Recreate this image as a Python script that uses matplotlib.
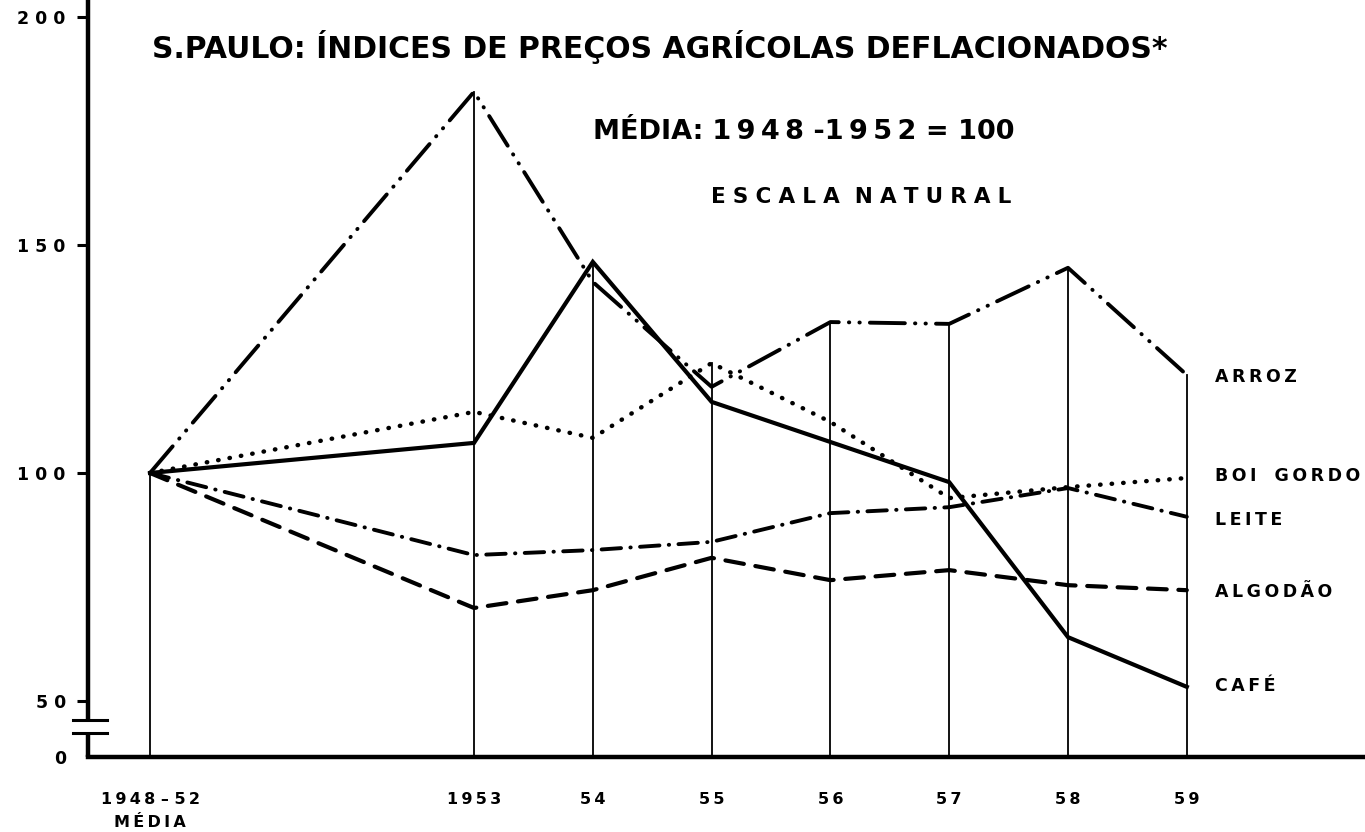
import matplotlib
matplotlib.use("Agg")
import matplotlib.pyplot as plt

# ---------------- data ----------------
categories = ['1948 – 52\nMÉDIA', '1953', '54', '55', '56', '57', '58', '59']
arroz   = [100, 183.6, 141.9, 118.9, 133.1, 132.7, 145.0, 121.5]
cafe    = [100, 106.6, 146.3, 115.6, 106.8, 98.0, 64.0, 53.1]
boi     = [100, 113.4, 107.7, 124.1, 111.2, 94.5, 96.9, 98.9]
leite   = [100, 82.0, 83.1, 84.9, 91.2, 92.5, 96.7, 90.4]
algodao = [100, 70.4, 74.3, 81.4, 76.5, 78.7, 75.4, 74.3]
series_names = ['ARROZ', 'BOI GORDO', 'LEITE', 'ALGODÃO', 'CAFÉ']
ytick_vals = [50, 100, 150, 200]
ytick_labels = ['5 0', '1 0 0', '1 5 0', '2 0 0']

THIN = '\u2009'
MID = '\u2004'


def spaced(s, sep, word_sep='  '):
    """Add letter spacing inside words (keeps the text readable)."""
    return word_sep.join(sep.join(w) for w in s.split(' '))


# ---------------- layout ----------------
W, H, DPI = 1365, 832, 100
fig = plt.figure(figsize=(W / DPI, H / DPI), dpi=DPI)
fig.patch.set_facecolor('white')

base_px = 757          # baseline pixel row
left_px = 88           # y axis pixel column
ax = fig.add_axes([left_px / W, (H - base_px) / H, 1 - left_px / W, base_px / H])

px_per_unit = 4.56
def v_of_px(p):
    return 100 + (473 - p) / px_per_unit

xpx_per_unit = 118.8
def x_of_px(p):
    return (p - 474) / xpx_per_unit

x_pos = [x_of_px(150)] + list(range(len(categories) - 1))

ax.set_ylim(v_of_px(base_px), v_of_px(0))
ax.set_xlim(x_of_px(left_px), x_of_px(W))

for s in ['top', 'right', 'left']:
    ax.spines[s].set_visible(False)
ax.spines['bottom'].set_linewidth(3.2)
ax.spines['bottom'].set_color('black')

# y axis with break
y_base = v_of_px(base_px)
x_ax = x_of_px(left_px)
ax.plot([x_ax, x_ax], [v_of_px(0), v_of_px(720)], color='black', lw=3.2, clip_on=False,
        solid_capstyle='butt')
ax.plot([x_ax, x_ax], [v_of_px(733), y_base], color='black', lw=3.2, clip_on=False,
        solid_capstyle='butt')
for p in (720, 733):
    ax.plot([x_of_px(73), x_of_px(107)], [v_of_px(p), v_of_px(p)], color='black', lw=2.2,
            clip_on=False)

# vertical reference lines from baseline to top of highest series
all_series = [arroz, boi, leite, algodao, cafe]
for i, xp in enumerate(x_pos):
    top = max(s[i] for s in all_series)
    ax.plot([xp, xp], [y_base, top], color='black', lw=1.3, zorder=1)

# series
styles = {
    'ARROZ':     dict(lw=2.8, dashes=(9, 2.6, 0.1, 2.6, 0.1, 2.6), dash_capstyle='round'),
    'BOI GORDO': dict(lw=3.2, dashes=(0.1, 2.5), dash_capstyle='round'),
    'LEITE':     dict(lw=2.8, dashes=(5, 2.4, 0.1, 2.4), dash_capstyle='round'),
    'ALGODÃO':   dict(lw=3.0, dashes=(4.5, 2.8), dash_capstyle='round'),
    'CAFÉ':      dict(lw=3.0),
}
for name, vals in zip(series_names, all_series):
    ax.plot(x_pos, vals, color='black', solid_joinstyle='miter', zorder=3, **styles[name])

# right-side labels
label_px = {'ARROZ': 377, 'BOI GORDO': 476, 'LEITE': 520, 'ALGODÃO': 592, 'CAFÉ': 686}
for name in series_names:
    ax.text(x_of_px(1215), v_of_px(label_px[name]), spaced(name, THIN, '   '),
            fontsize=12.5, fontweight='bold', ha='left', va='center', clip_on=False)

# y ticks
ax.set_yticks(ytick_vals + [y_base])
ax.set_yticklabels(ytick_labels + ['0'], fontsize=12.5, fontweight='bold')
ax.tick_params(axis='y', direction='out', length=8, width=2.2, pad=8)
ax.get_yticklines()[-2].set_visible(False)  # no tick mark for the "0" label
ax.get_yticklines()[-1].set_visible(False)

# x ticks
xlabels = []
for c in categories:
    lines = c.split('\n')
    xlabels.append('\n'.join(spaced(l, THIN, ' ') for l in lines))
ax.set_xticks(x_pos)
ax.set_xticklabels(xlabels, fontsize=11.5, fontweight='bold', linespacing=1.7)
ax.tick_params(axis='x', length=0, pad=25)

# titles
fig.text(660 / W, 1 - 47 / H, 'S.PAULO: ÍNDICES DE PREÇOS AGRÍCOLAS DEFLACIONADOS*',
         fontsize=21.5, fontweight='bold', ha='center', va='center')
fig.text(804 / W, 1 - 132 / H, 'MÉDIA:' + MID + spaced('1948', THIN) + ' -' + spaced('1952', THIN) + ' = 100',
         fontsize=19.5, fontweight='bold', ha='center', va='center')
fig.text(861 / W, 1 - 197 / H, spaced('ESCALA', MID) + '  ' + spaced('NATURAL', MID),
         fontsize=15.5, fontweight='bold', ha='center', va='center')

fig.savefig('out.png', dpi=DPI, facecolor='white')
